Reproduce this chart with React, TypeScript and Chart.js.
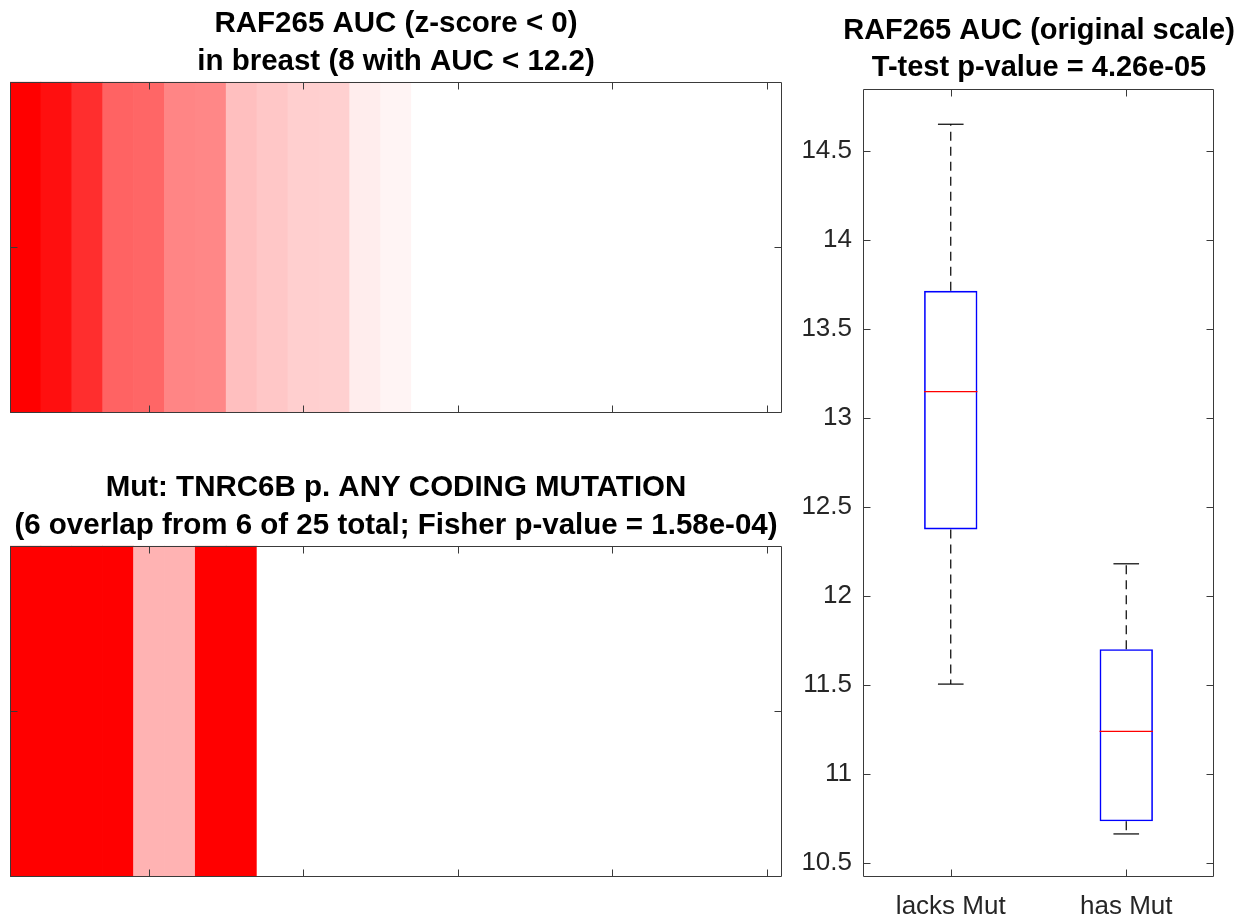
import React, { useEffect, useRef } from 'react';
import { Chart, registerables } from 'chart.js';

Chart.register(...registerables);

const FONT = '"Liberation Sans", Arial, Helvetica, sans-serif';
const AXIS_COLOR = '#3a3a3a';
const TEXT_COLOR = '#262626';

// ---------- Heatmap data ----------
const samplePositions = [1, 2, 3, 4, 5, 6, 7, 8, 9, 10, 11, 12, 13, 14, 15, 16, 17, 18, 19, 20, 21, 22, 23, 24, 25];
const heatRow = 1;
// colour intensity of each cell (0 = white, 1 = full red)
const aucShade = [1.0, 0.94, 0.82, 0.61, 0.6, 0.48, 0.47, 0.25, 0.22, 0.19, 0.185, 0.07, 0.045, 0, 0, 0, 0, 0, 0, 0, 0, 0, 0, 0, 0];
const mutShade = [1, 1, 1, 1, 0.3, 0.3, 1, 1, 0, 0, 0, 0, 0, 0, 0, 0, 0, 0, 0, 0, 0, 0, 0, 0, 0];
const heatXTicks = [5, 10, 15, 20, 25];
const heatYTicks = [1];

const topTitle = ['RAF265 AUC (z-score < 0)', 'in breast (8 with AUC < 12.2)'];
const bottomTitle = ['Mut: TNRC6B p. ANY CODING MUTATION', '(6 overlap from 6 of 25 total; Fisher p-value = 1.58e-04)'];

// ---------- Box plot data ----------
const groups = ['lacks Mut', 'has Mut'];
const groupPos = [1, 2];
const whiskerLow = [11.504, 10.662];
const q1 = [12.373, 10.733];
const median = [13.147, 11.238];
const q3 = [13.714, 11.70];
const whiskerHigh = [14.65, 12.18];
const boxYTicks = [10.5, 11, 11.5, 12, 12.5, 13, 13.5, 14, 14.5];
const boxTitle = ['RAF265 AUC (original scale)', 'T-test p-value = 4.26e-05'];

const BOX_WIDTH = 0.304; // in x units (group spacing = 1)
const CAP_WIDTH = 0.146;

const shadeColor = (v: number) => {
  const c = Math.round(255 * (1 - v));
  return `rgb(255, ${c}, ${c})`;
};

const frameTicks = {
  id: 'frameTicks',
  afterDatasetsDraw(chart: any, _args: any, opts: any) {
    const { ctx, chartArea: a, scales } = chart;
    const len = opts.len || 7;
    const L = Math.round(a.left) + 0.5;
    const R = Math.round(a.right) - 0.5;
    const T = Math.round(a.top) + 0.5;
    const B = Math.round(a.bottom) - 0.5;
    ctx.save();
    ctx.strokeStyle = opts.color || AXIS_COLOR;
    ctx.lineWidth = 1;
    ctx.setLineDash([]);
    ctx.beginPath();
    ctx.rect(L, T, R - L, B - T);
    (opts.xTicks || []).forEach((v: number) => {
      const px = Math.round(scales.x.getPixelForValue(v)) + 0.5;
      ctx.moveTo(px, B);
      ctx.lineTo(px, B - len);
      ctx.moveTo(px, T);
      ctx.lineTo(px, T + len);
    });
    (opts.yTicks || []).forEach((v: number) => {
      const py = Math.round(scales.y.getPixelForValue(v)) + 0.5;
      ctx.moveTo(L, py);
      ctx.lineTo(L + len, py);
      ctx.moveTo(R, py);
      ctx.lineTo(R - len, py);
    });
    ctx.stroke();
    ctx.restore();
  },
};

const heatConfig = (shade: number[], title: string[]): any => ({
  type: 'bar',
  data: {
    datasets: [
      {
        data: samplePositions.map((x) => ({ x, y: [heatRow - 0.5, heatRow + 0.5] })),
        backgroundColor: shade.map(shadeColor),
        borderWidth: 0,
        barPercentage: 1,
        categoryPercentage: 1,
      },
    ],
  },
  options: {
    responsive: false,
    animation: false,
    events: [],
    layout: { padding: { left: 10, right: 18, top: 0, bottom: 17 } },
    plugins: {
      legend: { display: false },
      tooltip: { enabled: false },
      title: {
        display: true,
        text: title,
        color: '#000',
        font: { family: FONT, size: 29.5, weight: 'bold', lineHeight: 1.27 },
        padding: { top: 5.5, bottom: 1.4 },
      },
      frameTicks: { xTicks: heatXTicks, yTicks: heatYTicks, len: 7 },
    },
    scales: {
      x: {
        type: 'linear',
        min: 0.5,
        max: 25.5,
        offset: false,
        display: false,
        afterBuildTicks: (s: any) => {
          s.ticks = heatXTicks.map((value) => ({ value }));
        },
      },
      y: {
        type: 'linear',
        min: 0.5,
        max: 1.5,
        display: false,
      },
    },
  },
  plugins: [frameTicks],
});

const lineDs = (pts: { x: number; y: number }[], color: string, width: number, dash: number[] = []) => ({
  type: 'line',
  data: pts,
  borderColor: color,
  borderWidth: width,
  borderDash: dash,
  pointRadius: 0,
  tension: 0,
  fill: false,
  clip: false,
});

const boxConfig = (): any => {
  const datasets: any[] = [];
  groupPos.forEach((p, i) => {
    datasets.push(lineDs([{ x: p, y: q3[i] }, { x: p, y: whiskerHigh[i] }], '#000', 1.2, [9, 6]));
    datasets.push(lineDs([{ x: p, y: q1[i] }, { x: p, y: whiskerLow[i] }], '#000', 1.2, [9, 6]));
    datasets.push(lineDs([{ x: p - CAP_WIDTH / 2, y: whiskerHigh[i] }, { x: p + CAP_WIDTH / 2, y: whiskerHigh[i] }], '#000', 1.2));
    datasets.push(lineDs([{ x: p - CAP_WIDTH / 2, y: whiskerLow[i] }, { x: p + CAP_WIDTH / 2, y: whiskerLow[i] }], '#000', 1.2));
    datasets.push(lineDs([{ x: p - BOX_WIDTH / 2, y: median[i] }, { x: p + BOX_WIDTH / 2, y: median[i] }], '#ff0000', 1.3));
  });
  datasets.push({
    type: 'bar',
    data: groupPos.map((x, i) => ({ x, y: [q1[i], q3[i]] })),
    backgroundColor: 'rgba(0,0,0,0)',
    borderColor: '#0000ff',
    borderWidth: 1.6,
    borderSkipped: false,
    barPercentage: BOX_WIDTH,
    categoryPercentage: 1,
    grouped: false,
  });
  return {
    type: 'bar',
    data: { datasets },
    options: {
      responsive: false,
      animation: false,
      events: [],
      layout: { padding: 0 },
      plugins: {
        legend: { display: false },
        tooltip: { enabled: false },
        title: {
          display: true,
          text: boxTitle,
          color: '#000',
          font: { family: FONT, size: 29, weight: 'bold', lineHeight: 1.27 },
          padding: { top: 13, bottom: 2 },
        },
        frameTicks: { xTicks: groupPos, yTicks: boxYTicks, len: 7 },
      },
      scales: {
        x: {
          type: 'linear',
          min: 0.5,
          max: 2.5,
          offset: false,
          afterBuildTicks: (s: any) => {
            s.ticks = groupPos.map((value) => ({ value }));
          },
          ticks: {
            callback: (v: number) => groups[groupPos.indexOf(v)],
            font: { family: FONT, size: 26 },
            color: TEXT_COLOR,
            padding: 14,
            maxRotation: 0,
            autoSkip: false,
          },
          grid: { display: false, drawTicks: false },
          border: { display: false },
          afterFit: (s: any) => {
            s.height = 41;
          },
        },
        y: {
          type: 'linear',
          min: 10.42,
          max: 14.85,
          afterBuildTicks: (s: any) => {
            s.ticks = boxYTicks.map((value) => ({ value }));
          },
          ticks: {
            callback: (v: number) => String(v),
            font: { family: FONT, size: 26 },
            color: TEXT_COLOR,
            padding: 11,
          },
          grid: { display: false, drawTicks: false },
          border: { display: false },
          afterFit: (s: any) => {
            s.width = 83;
          },
        },
        yRight: {
          type: 'linear',
          position: 'right',
          display: true,
          ticks: { display: false },
          grid: { display: false, drawTicks: false },
          border: { display: false },
          afterFit: (s: any) => {
            s.width = 84;
          },
        },
      },
    },
    plugins: [frameTicks],
  };
};

export default function App() {
  const topRef = useRef<HTMLCanvasElement>(null);
  const botRef = useRef<HTMLCanvasElement>(null);
  const boxRef = useRef<HTMLCanvasElement>(null);

  useEffect(() => {
    const charts = [
      new Chart(topRef.current as HTMLCanvasElement, heatConfig(aucShade, topTitle)),
      new Chart(botRef.current as HTMLCanvasElement, heatConfig(mutShade, bottomTitle)),
      new Chart(boxRef.current as HTMLCanvasElement, boxConfig()),
    ];
    return () => charts.forEach((c) => c.destroy());
  }, []);

  return (
    <div
      style={{
        position: 'fixed',
        left: 0,
        top: 0,
        width: 1242,
        height: 918,
        overflow: 'hidden',
        background: '#fff',
      }}
    >
      <canvas ref={topRef} width={800} height={430} style={{ position: 'absolute', left: 0, top: 0 }} />
      <canvas ref={botRef} width={800} height={430} style={{ position: 'absolute', left: 0, top: 464 }} />
      <canvas ref={boxRef} width={518} height={918} style={{ position: 'absolute', left: 780, top: 0 }} />
    </div>
  );
}
